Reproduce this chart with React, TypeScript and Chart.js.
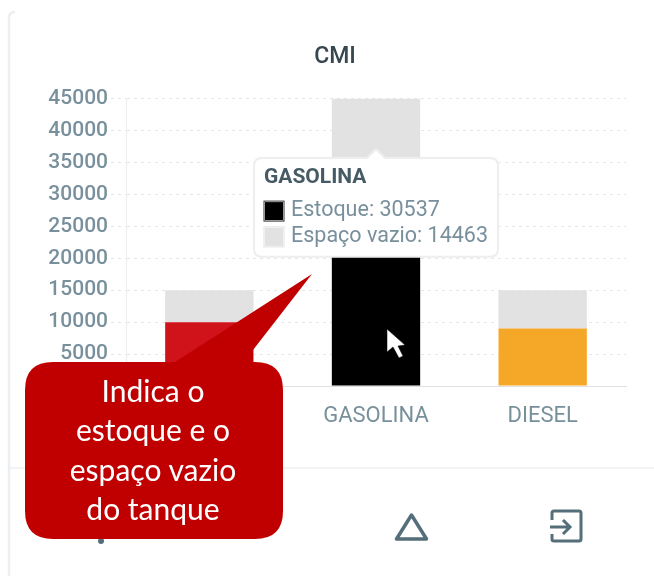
import React, { useEffect, useRef } from "react";
import { Chart, registerables, Tooltip } from "chart.js";

Chart.register(...registerables);

const categories = ["ETANOL", "GASOLINA", "DIESEL"];
const estoque = [10000, 30537, 9000];
const espacoVazio = [5000, 14463, 6000];
const barColors = ["#d0121b", "#000000", "#f5a827"];
const emptyColor = "#e2e2e2";
const calloutLines = ["Indica o", "estoque e o", "espaço vazio", "do tanque"];

(Tooltip.positioners as any).caretAbove = (items: any[]) => {
  if (!items.length) return false;
  return { x: items[0].element.x, y: 149 };
};

export default function App() {
  const ref = useRef<HTMLCanvasElement>(null);
  useEffect(() => {
    const font = "Roboto";
    const chart = new Chart(ref.current!, {
      type: "bar",
      data: {
        labels: categories,
        datasets: [
          { label: "Estoque", data: estoque, backgroundColor: barColors, stack: "s" },
          { label: "Espaço vazio", data: espacoVazio, backgroundColor: emptyColor, stack: "s" },
        ],
      },
      options: {
        responsive: false,
        animation: false,
        events: [],
        layout: { padding: { left: 44, right: 28, top: 0, bottom: 0 } },
        datasets: { bar: { barPercentage: 0.53, categoryPercentage: 1 } },
        interaction: { mode: "index", intersect: false },
        plugins: {
          legend: { display: false },
          title: {
            display: true,
            text: "CMI",
            color: "#37474f",
            font: { family: font, size: 23, weight: "500" },
            padding: { top: 43, bottom: 28 },
          },
          tooltip: {
            enabled: true,
            position: "caretAbove" as any,
            xAlign: "center",
            yAlign: "top",
            backgroundColor: "#ffffff",
            borderColor: "#eeeeee",
            borderWidth: 2,
            cornerRadius: 8,
            caretSize: 9,
            caretPadding: 0,
            padding: { left: 10, right: 10, top: 7, bottom: 7 },
            titleColor: "#455a64",
            titleFont: { family: font, size: 21, weight: "bold" },
            titleMarginBottom: 8,
            bodyColor: "#78909c",
            bodyFont: { family: font, size: 21.5 },
            bodySpacing: 0,
            boxWidth: 20,
            boxHeight: 20,
            boxPadding: 5,
            displayColors: true,
            usePointStyle: false,
            callbacks: {
              label: (ctx: any) => `${ctx.dataset.label}: ${ctx.raw}`,
              labelColor: (ctx: any) => ({
                borderColor: ctx.datasetIndex === 0 ? "#333333" : emptyColor,
                backgroundColor: ctx.datasetIndex === 0 ? barColors[ctx.dataIndex] : emptyColor,
                borderWidth: 1,
              }),
            },
          },
        },
        scales: {
          x: {
            afterFit: (s: any) => { s.height = 190; },
            grid: { display: false },
            border: { display: true, color: "#e0e0e0", width: 1 },
            ticks: { color: "#78909c", font: { family: font, size: 22 }, padding: 9, maxRotation: 0 },
          },
          y: {
            stacked: true,
            min: 0,
            max: 45000,
            afterFit: (s: any) => { s.width = 82; },
            grid: { color: "#e6e6e6", tickColor: "#e6e6e6", tickLength: 15, tickBorderDash: [3, 4] },
            border: { display: true, color: "#eeeeee", width: 1, dash: [3, 4] },
            ticks: {
              stepSize: 5000,
              color: "#78909c",
              font: { family: font, size: 21, weight: "500" },
              padding: 3,
              callback: (v: any) => String(v),
            },
          },
        },
      },
    } as any);
    chart.tooltip!.setActiveElements(
      [
        { datasetIndex: 0, index: 1 },
        { datasetIndex: 1, index: 1 },
      ],
      { x: 375, y: 149 }
    );
    chart.update();
    return () => chart.destroy();
  }, []);

  return (
    <div style={{ position: "fixed", left: 0, top: 0, width: 654, height: 576, background: "#fff", overflow: "hidden", filter: "blur(0.6px)" }}>
      <canvas ref={ref} width={654} height={576} style={{ position: "absolute", left: 0, top: 0, display: "block" }} />
      <svg width={654} height={576} style={{ position: "absolute", left: 0, top: 0 }}>
        <path d="M9 576V18Q9 12 15 12" fill="none" stroke="#eceff1" strokeWidth={2.5} />
        <line x1={9} y1={468} x2={654} y2={468} stroke="#eceff1" strokeWidth={1.5} />
        <path d="M387 329L387 352L393 347L399 358L403 356L398 346L405 345Z" fill="#ffffff" stroke="#000" strokeWidth={0.5} />
        <circle cx={101} cy={541} r={3} fill="#546e7a" />
        <path d="M411.5 515L396.5 539H426.5Z" fill="none" stroke="#546e7a" strokeWidth={3.5} strokeLinejoin="round" />
        <path d="M552 520V513Q552 511 554 511H579Q581 511 581 513V539Q581 541 579 541H554Q552 541 552 539V534" fill="none" stroke="#546e7a" strokeWidth={3} />
        <path d="M550 527H570M563 520L570 527L563 534" fill="none" stroke="#546e7a" strokeWidth={3} />
        <path
          d="M53 362H175L312 274L253 350V362H255Q283 362 283 390V511Q283 539 255 539H53Q25 539 25 511V390Q25 362 53 362Z"
          fill="#c00000"
        />
        {calloutLines.map((t, i) => (
          <text key={t} x={153} y={402 + i * 39.3} fill="#ffffff" textAnchor="middle" fontFamily="Lato" fontSize={30}>
            {t}
          </text>
        ))}
      </svg>
    </div>
  );
}
